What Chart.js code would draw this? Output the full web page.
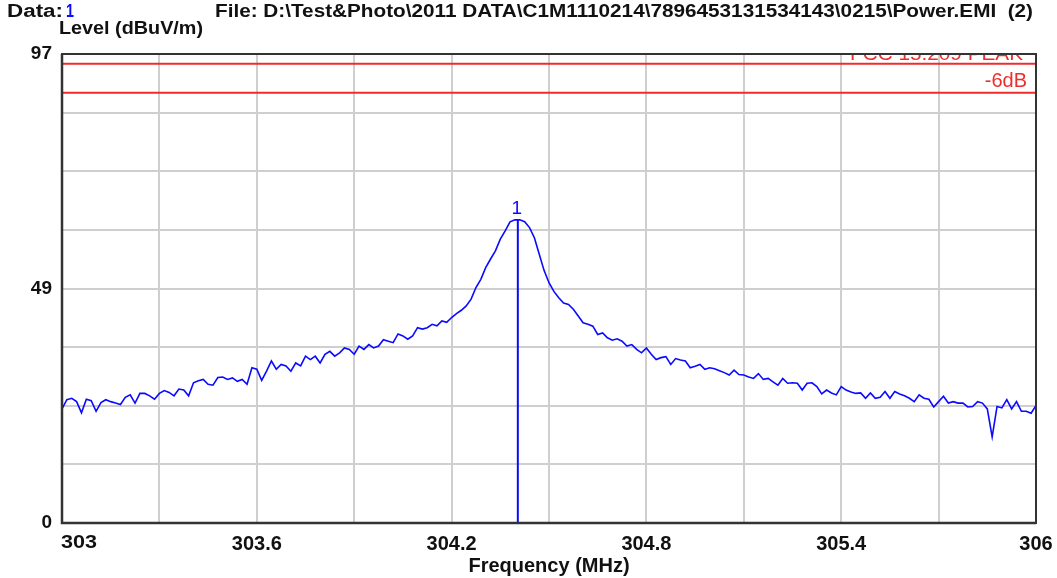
<!DOCTYPE html>
<html>
<head>
<meta charset="utf-8">
<script src="https://cdn.jsdelivr.net/npm/chart.js@4.4.1/dist/chart.umd.min.js"></script>
<style>
  html, body { margin: 0; padding: 0; background: #ffffff; }
  #wrap { position: relative; width: 1057px; height: 578px; }
  canvas { display: block; }
</style>
</head>
<body>
<div id="wrap"><canvas id="c" width="1057" height="578"></canvas></div>
<script>
// ---------- data ----------
const headerData = "1";
const headerFile = "File: D:\\Test&Photo\\2011 DATA\\C1M1110214\\7896453131534143\\0215\\Power.EMI  (2)";
const yAxisTitle = "Level (dBuV/m)";
const xAxisTitle = "Frequency (MHz)";

const freqMHz = [
303,303.015,303.03,303.045,303.06,303.075,303.09,303.105,303.12,303.135,
303.15,303.165,303.18,303.195,303.21,303.225,303.24,303.255,303.27,303.285,
303.3,303.315,303.33,303.345,303.36,303.375,303.39,303.405,303.42,303.435,
303.45,303.465,303.48,303.495,303.51,303.525,303.54,303.555,303.57,303.585,
303.6,303.615,303.63,303.645,303.66,303.675,303.69,303.705,303.72,303.735,
303.75,303.765,303.78,303.795,303.81,303.825,303.84,303.855,303.87,303.885,
303.9,303.915,303.93,303.945,303.96,303.975,303.99,304.005,304.02,304.035,
304.05,304.065,304.08,304.095,304.11,304.125,304.14,304.155,304.17,304.185,
304.2,304.215,304.23,304.245,304.26,304.275,304.29,304.305,304.32,304.335,
304.35,304.365,304.38,304.395,304.41,304.425,304.44,304.455,304.47,304.485,
304.5,304.515,304.53,304.545,304.56,304.575,304.59,304.605,304.62,304.635,
304.65,304.665,304.68,304.695,304.71,304.725,304.74,304.755,304.77,304.785,
304.8,304.815,304.83,304.845,304.86,304.875,304.89,304.905,304.92,304.935,
304.95,304.965,304.98,304.995,305.01,305.025,305.04,305.055,305.07,305.085,
305.1,305.115,305.13,305.145,305.16,305.175,305.19,305.205,305.22,305.235,
305.25,305.265,305.28,305.295,305.31,305.325,305.34,305.355,305.37,305.385,
305.4,305.415,305.43,305.445,305.46,305.475,305.49,305.505,305.52,305.535,
305.55,305.565,305.58,305.595,305.61,305.625,305.64,305.655,305.67,305.685,
305.7,305.715,305.73,305.745,305.76,305.775,305.79,305.805,305.82,305.835,
305.85,305.865,305.88,305.895,305.91,305.925,305.94,305.955,305.97,305.985,
306
];

const levelDbuv = [
23.6,25.5,25.8,25.1,22.8,25.6,25.3,23.1,24.9,25.5,
25.1,24.8,24.5,26.0,26.5,24.8,26.8,26.8,26.3,25.6,
26.8,27.4,27.0,26.3,27.7,27.5,26.3,29.0,29.4,29.7,
28.7,28.5,30.1,30.2,29.7,30.0,29.3,29.7,28.7,32.1,
31.8,29.5,31.4,33.5,31.8,32.8,32.5,31.4,33.1,32.5,
34.5,33.8,34.5,33.1,34.9,35.5,34.5,35.2,36.2,35.9,
34.9,36.6,35.9,36.9,36.2,36.6,37.9,37.6,37.3,39.1,
38.7,38.0,38.7,40.4,40.1,40.4,41.1,40.8,41.8,41.5,
42.5,43.3,44.0,44.9,46.3,48.7,50.4,52.8,54.6,56.3,
58.7,60.4,62.3,62.7,62.7,62.3,61.1,59.0,55.6,52.2,
49.7,47.9,46.6,45.5,45.2,44.2,42.8,41.4,41.1,40.7,
39.0,39.3,38.3,37.8,38.1,37.6,36.6,36.9,35.9,35.2,
36.2,34.9,33.8,34.2,34.4,32.8,34.0,33.7,33.5,32.1,
32.4,32.8,31.8,32.1,31.9,31.5,31.1,30.6,31.6,30.7,
30.6,30.2,29.9,30.9,29.7,29.9,29.2,28.5,29.9,28.9,
29.0,28.9,27.5,28.9,29.0,28.2,26.7,27.5,26.9,26.5,
28.2,27.5,27.1,26.8,26.9,25.8,26.9,25.8,26.0,27.2,
25.8,27.2,26.7,26.3,25.8,25.1,26.5,25.8,25.6,24.0,
25.1,26.2,24.8,25.1,24.8,24.8,24.0,24.1,25.1,24.8,
23.6,17.8,24.1,23.8,25.5,23.6,25.1,23.1,23.1,22.7,
24.3
];

const markerFreq = 304.404;
const markerLevel = 62.7;
const markerLabel = "1";

const limitLevel = 95.0;
const limitName = "FCC 15.209 PEAK";
const marginLevel = 89.0;
const marginName = "-6dB";

const xGridValues = [303,303.3,303.6,303.9,304.2,304.5,304.8,305.1,305.4,305.7,306];
const xTickLabels = ["303","","303.6","","304.2","","304.8","","305.4","","306"];
const yGridValues = [0,12.125,24.25,36.375,48.5,60.625,72.75,84.875,97];
const yTickLabels = ["0","","","","49","","","","97"];

// ---------- styles ----------
const FONT = '"Liberation Sans", Arial, sans-serif';
const BLUE = '#0a0aff';
const RED = '#ee2c2c';
const GRID = '#cfcfcf';
const FRAME = '#333333';
const TEXT = '#111111';

// draw text stretched horizontally to a target width
function fitText(ctx, txt, x, y, width) {
  const w = ctx.measureText(txt).width;
  ctx.save();
  ctx.translate(x, y);
  ctx.scale(width / w, 1);
  ctx.fillText(txt, 0, 0);
  ctx.restore();
}

const overlay = {
  id: 'overlay',
  afterDatasetsDraw(chart) {
    const { ctx, chartArea: a, scales: { x, y } } = chart;
    ctx.save();
    ctx.beginPath();
    ctx.rect(a.left, a.top, a.right - a.left, a.bottom - a.top);
    ctx.clip();
    ctx.fillStyle = RED;
    ctx.font = '19px ' + FONT;
    ctx.textAlign = 'left';
    ctx.textBaseline = 'alphabetic';
    fitText(ctx, limitName, a.right - 186, y.getPixelForValue(limitLevel) - 4, 173);
    ctx.font = '20px ' + FONT;
    ctx.textAlign = 'right';
    ctx.fillText(marginName, a.right - 9, y.getPixelForValue(marginLevel) - 6);
    ctx.restore();

    ctx.save();
    ctx.fillStyle = BLUE;
    ctx.font = '19px ' + FONT;
    ctx.textAlign = 'center';
    ctx.textBaseline = 'alphabetic';
    ctx.fillText(markerLabel, x.getPixelForValue(markerFreq) - 1, y.getPixelForValue(markerLevel) - 6);
    ctx.restore();
  },
  afterDraw(chart) {
    const { ctx, chartArea: a, scales: { x } } = chart;
    ctx.save();
    // frame
    ctx.strokeStyle = FRAME;
    ctx.lineWidth = 2;
    ctx.strokeRect(a.left, a.top, a.right - a.left, a.bottom - a.top);
    ctx.lineWidth = 2.5;
    ctx.beginPath();
    ctx.moveTo(a.left, a.top);
    ctx.lineTo(a.left, a.bottom);
    ctx.lineTo(a.right, a.bottom);
    ctx.stroke();

    // header
    ctx.textBaseline = 'alphabetic';
    ctx.textAlign = 'left';
    ctx.font = 'bold 18px ' + FONT;
    ctx.fillStyle = TEXT;
    fitText(ctx, 'Data:', 7, 17, 56);
    ctx.fillStyle = BLUE;
    fitText(ctx, headerData, 66, 17, 8);
    ctx.fillStyle = TEXT;
    fitText(ctx, headerFile, 215, 17, 818);
    fitText(ctx, yAxisTitle, 59, 34, 144);

    // first x tick label (left aligned at the axis start)
    ctx.font = 'bold 19px ' + FONT;
    ctx.textBaseline = 'top';
    fitText(ctx, xTickLabels[0], x.getPixelForValue(xGridValues[0]) - 1, a.bottom + 10, 36);
    ctx.restore();
  }
};

const trace = freqMHz.map((f, i) => ({ x: f, y: levelDbuv[i] }));

new Chart(document.getElementById('c'), {
  type: 'line',
  data: {
    datasets: [
      { label: 'Marker', data: [{ x: markerFreq, y: 0 }, { x: markerFreq, y: markerLevel }],
        borderColor: BLUE, borderWidth: 2, pointRadius: 0, fill: false },
      { label: 'Trace', data: trace, borderColor: BLUE, borderWidth: 1.6,
        pointRadius: 0, tension: 0, fill: false },
      { label: limitName, data: [{ x: 303, y: limitLevel }, { x: 306, y: limitLevel }],
        borderColor: RED, borderWidth: 2, pointRadius: 0, fill: false },
      { label: marginName, data: [{ x: 303, y: marginLevel }, { x: 306, y: marginLevel }],
        borderColor: RED, borderWidth: 2, pointRadius: 0, fill: false }
    ]
  },
  options: {
    responsive: false,
    animation: false,
    devicePixelRatio: 1,
    layout: { padding: { top: 54, right: 21, left: 0, bottom: 0 } },
    plugins: { legend: { display: false }, tooltip: { enabled: false }, title: { display: false } },
    scales: {
      x: {
        type: 'linear', min: 303, max: 306,
        afterBuildTicks: s => { s.ticks = xGridValues.map(v => ({ value: v })); },
        afterFit: s => { s.height = 55; s.paddingRight = 0; s.paddingLeft = 0; },
        ticks: {
          autoSkip: false, maxRotation: 0, padding: 9,
          color: TEXT, font: { family: FONT, size: 20, weight: 'bold' },
          callback: (v, i) => (i === 0 ? '' : xTickLabels[i])
        },
        grid: { color: GRID, lineWidth: 2, drawTicks: false },
        border: { display: false },
        title: { display: true, text: xAxisTitle, color: TEXT,
          font: { family: FONT, size: 20, weight: 'bold' }, padding: { top: 0, bottom: 0 } }
      },
      y: {
        min: 0, max: 97,
        afterBuildTicks: s => { s.ticks = yGridValues.map(v => ({ value: v })); },
        afterFit: s => { s.width = 62; },
        ticks: {
          autoSkip: false, padding: 10,
          color: TEXT, font: { family: FONT, size: 19, weight: 'bold' },
          callback: (v, i) => yTickLabels[i]
        },
        grid: { color: GRID, lineWidth: 2, drawTicks: false },
        border: { display: false }
      }
    }
  },
  plugins: [overlay]
});
</script>
</body>
</html>
